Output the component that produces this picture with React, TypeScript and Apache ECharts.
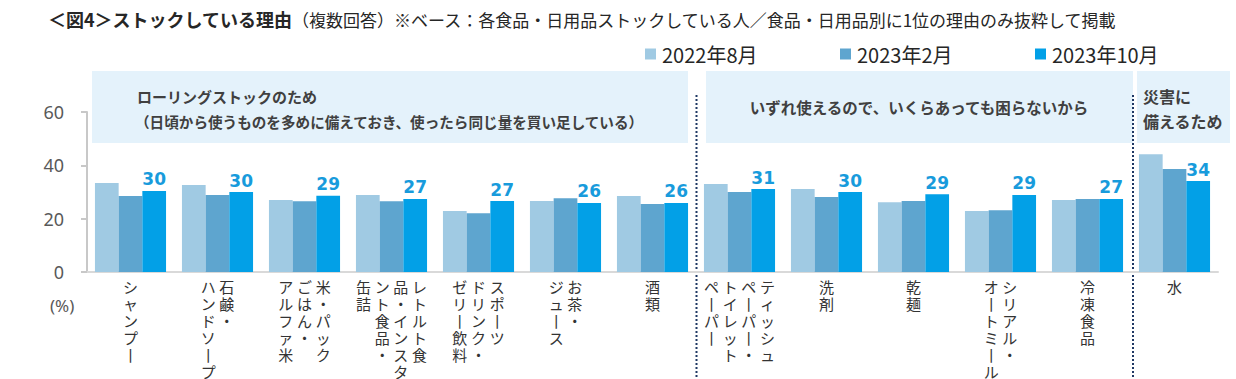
import React, { useEffect, useRef } from "react";
import * as echarts from "echarts";

// ---- data ----
const categories = [
  "シャンプー",
  "石鹸・ハンドソープ",
  "米・パックごはん・アルファ米",
  "レトルト食品・インスタント食品・缶詰",
  "スポーツドリンク・ゼリー飲料",
  "お茶・ジュース",
  "酒類",
  "ティッシュペーパー・トイレットペーパー",
  "洗剤",
  "乾麺",
  "シリアル・オートミール",
  "冷凍食品",
  "水",
];
// vertical label columns, in reading order (right column first)
const labelColumns = [
  ["シャンプー"],
  ["石鹸・", "ハンドソープ"],
  ["米・パック", "ごはん・", "アルファ米"],
  ["レトルト食", "品・インスタ", "ント食品・", "缶詰"],
  ["スポーツ", "ドリンク・", "ゼリー飲料"],
  ["お茶・", "ジュース"],
  ["酒類"],
  ["ティッシュ", "ペーパー・", "トイレット", "ペーパー"],
  ["洗剤"],
  ["乾麺"],
  ["シリアル・", "オートミール"],
  ["冷凍食品"],
  ["水"],
];
const seriesNames = ["2022年8月", "2023年2月", "2023年10月"];
const values2022Aug = [33.4, 32.6, 27.0, 28.9, 22.9, 26.6, 28.5, 33.0, 31.1, 26.2, 22.9, 27.0, 44.2];
const values2023Feb = [28.5, 28.9, 26.5, 26.5, 22.0, 27.7, 25.5, 30.0, 28.1, 26.6, 23.2, 27.4, 38.6];
const values2023Oct = [30.4, 30.0, 28.6, 27.4, 26.6, 25.9, 25.9, 31.1, 30.0, 29.2, 28.9, 27.4, 34.1];
const yTicks = { min: 0, max: 60, interval: 20 };
const groupHeaders = [
  { lines: ["ローリングストックのため", "（日頃から使うものを多めに備えておき、使ったら同じ量を買い足している）"], from: 0, to: 7 },
  { lines: ["いずれ使えるので、いくらあっても困らないから"], from: 7, to: 12 },
  { lines: ["災害に", "備えるため"], from: 12, to: 13 },
];
const titleBold = "＜図4＞ストックしている理由";
const titleNote = "（複数回答）※ベース：各食品・日用品ストックしている人／食品・日用品別に1位の理由のみ抜粋して掲載";

// ---- style ----
const W = 1236;
const H = 379;
const GRID_LEFT = 87;
const GRID_RIGHT = 1218;
const GRID_TOP = 112;
const GRID_BOTTOM = 272;
const COLORS = ["#A0CAE3", "#5EA5CF", "#02A0E7"];
const JP = "'Noto Sans CJK JP', 'Noto Sans', sans-serif";
const TEXT = "#333333";

function labelFormatter(value: string) {
  const idx = categories.indexOf(value);
  const cols = labelColumns[idx].map((c) => Array.from(c));
  const n = Math.max(...cols.map((c) => c.length));
  const lines: string[] = [];
  for (let i = 0; i < n; i++) {
    let line = "";
    for (let c = cols.length - 1; c >= 0; c--) {
      let ch = cols[c][i] ?? "　";
      if (ch === "ー") ch = "丨";
      line += `{c|${ch}}`;
    }
    lines.push(line);
  }
  return lines.join("\n");
}

export default function App() {
  const ref = useRef<HTMLDivElement>(null);
  useEffect(() => {
    if (!ref.current) return;
    const chart = echarts.init(ref.current, undefined, { renderer: "svg" });
    const catW = (GRID_RIGHT - GRID_LEFT) / categories.length;

    const graphics: any[] = [];
    // title
    graphics.push({
      type: "text",
      left: 48,
      top: 10,
      style: { text: titleBold, fontFamily: JP, fontSize: 18, fontWeight: "bold", fill: "#262626" },
    });
    graphics.push({
      type: "text",
      left: 292,
      top: 11,
      style: { text: titleNote, fontFamily: JP, fontSize: 17, fill: "#262626" },
    });
    // header boxes
    const boxes = [
      { x: 92, w: 596 },
      { x: 706, w: 427 },
      { x: 1137, w: 93 },
    ];
    boxes.forEach((b) => {
      graphics.push({
        type: "rect",
        z: -10,
        shape: { x: b.x, y: 71, width: b.w, height: 72 },
        style: { fill: "#E4F2FB" },
      });
    });
    // header texts
    graphics.push({
      type: "text",
      x: 137,
      y: 96,
      style: { text: groupHeaders[0].lines[0], fontFamily: JP, fontSize: 15, fontWeight: "bold", fill: "#404040", verticalAlign: "middle" },
    });
    graphics.push({
      type: "text",
      x: 135,
      y: 121,
      style: { text: groupHeaders[0].lines[1], fontFamily: JP, fontSize: 14.6, fontWeight: "bold", fill: "#404040", verticalAlign: "middle" },
    });
    graphics.push({
      type: "text",
      x: 919,
      y: 107,
      style: { text: groupHeaders[1].lines[0], fontFamily: JP, fontSize: 15.5, fontWeight: "bold", fill: "#404040", align: "center", verticalAlign: "middle" },
    });
    graphics.push({
      type: "text",
      x: 1143,
      y: 96,
      style: { text: groupHeaders[2].lines[0], fontFamily: JP, fontSize: 16, fontWeight: "bold", fill: "#404040", verticalAlign: "middle" },
    });
    graphics.push({
      type: "text",
      x: 1143,
      y: 121,
      style: { text: groupHeaders[2].lines[1], fontFamily: JP, fontSize: 16, fontWeight: "bold", fill: "#404040", verticalAlign: "middle" },
    });
    // dotted dividers
    [groupHeaders[1].from, groupHeaders[2].from].forEach((k, i) => {
      const x = GRID_LEFT + k * catW + (i === 1 ? 2 : 0.5);
      graphics.push({
        type: "line",
        shape: { x1: x, y1: 95, x2: x, y2: H },
        style: { stroke: "#1F3864", lineWidth: 2, lineDash: [2, 2] },
      });
    });
    // (%)
    graphics.push({
      type: "text",
      x: 50,
      y: 305,
      style: { text: "(%)", fontFamily: "'Noto Sans', sans-serif", fontSize: 17, fill: "#595959", verticalAlign: "middle" },
    });

    const legendX = [640, 835, 1030];
    const option: any = {
      animation: false,
      grid: {
        left: GRID_LEFT,
        right: W - GRID_RIGHT,
        top: GRID_TOP,
        bottom: H - GRID_BOTTOM,
        containLabel: false,
      },
      legend: seriesNames.map((n, i) => ({
        data: [n],
        left: legendX[i],
        top: 39,
        itemWidth: 11,
        itemHeight: 11,
        itemGap: 0,
        icon: "rect",
        textStyle: { fontFamily: JP, fontSize: 20, color: "#262626", padding: [0, 0, 0, 1] },
      })),
      xAxis: {
        type: "category",
        data: categories,
        axisLine: { lineStyle: { color: "#D9D9D9", width: 2 } },
        axisTick: { show: false },
        axisLabel: {
          interval: 0,
          margin: 6,
          formatter: labelFormatter,
          rich: {
            c: {
              fontFamily: JP,
              fontSize: 15,
              lineHeight: 17,
              width: 18.7,
              align: "center",
              color: TEXT,
            },
          },
        },
      },
      yAxis: {
        type: "value",
        min: yTicks.min,
        max: yTicks.max,
        interval: yTicks.interval,
        splitLine: { show: false },
        axisLine: { show: true, lineStyle: { color: "#C8C8C8", width: 2 } },
        axisTick: { show: true, length: 6, lineStyle: { color: "#C8C8C8", width: 2 } },
        axisLabel: { fontFamily: "'Noto Sans', sans-serif", fontSize: 18, color: "#595959", margin: 23 },
      },
      series: [values2022Aug, values2023Feb, values2023Oct].map((vals, i) => ({
        type: "bar",
        name: seriesNames[i],
        data: vals,
        barWidth: 23.7,
        barGap: "0%",
        itemStyle: { color: COLORS[i] },
        label:
          i === 2
            ? {
                show: true,
                position: "top",
                distance: 3,
                formatter: (p: any) => String(Math.round(p.value)),
                fontFamily: "'DejaVu Sans', Verdana, sans-serif",
                fontWeight: "bold",
                fontSize: 17,
                color: "#189BDC",
              }
            : { show: false },
      })),
      graphic: graphics,
    };
    chart.setOption(option);
    return () => chart.dispose();
  }, []);
  return (
    <div
      ref={ref}
      style={{ position: "fixed", left: 0, top: 0, width: W, height: H, background: "#fff" }}
    />
  );
}
